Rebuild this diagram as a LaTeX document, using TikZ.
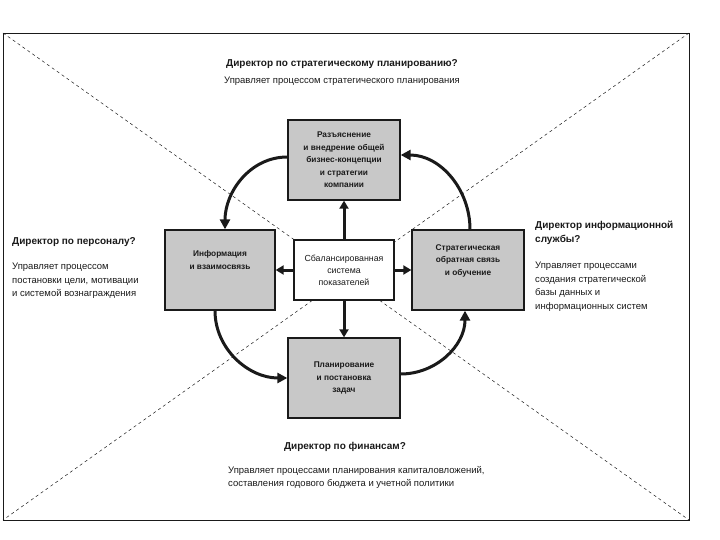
\documentclass[tikz,border=0pt]{standalone}
\usepackage{fontspec}
\setmainfont{Liberation Sans}
\usetikzlibrary{arrows.meta,positioning}
\definecolor{ink}{HTML}{1A1A1A}
\definecolor{boxgray}{HTML}{C8C8C8}

\begin{document}
\begin{tikzpicture}[
  x=1pt, y=-1pt, ink,
  stage/.style={draw=ink, fill=boxgray, line width=1.3pt, align=center,
                minimum width=112pt, minimum height=80pt, inner sep=2pt,
                font=\fontsize{8.3}{12.5}\selectfont\bfseries},
  core/.style={draw=ink, fill=white, line width=1.3pt, align=center,
               minimum width=100pt, minimum height=60pt, inner sep=2pt,
               font=\fontsize{8.8}{12}\selectfont},
  head/.style={font=\fontsize{10}{14}\selectfont\bfseries, inner sep=0pt},
  note/.style={font=\fontsize{9.5}{13.5}\selectfont, align=left, inner sep=0pt},
  fwd/.style={-{Triangle[length=8pt,width=9pt]}, line width=3pt},
  loop/.style={-{Triangle[length=10pt,width=10pt]}, line width=3pt},
  cross/.style={dashed, line width=0.5pt},
]
\useasboundingbox (0,0) rectangle (720,540);

% ---- frame and the two diagonals -------------------------------------------
\draw[line width=0.8pt] (3,33) rectangle (689,520);
\draw[cross] (3,33) -- (689,520);
\draw[cross] (689,33) -- (3,520);

% ---- the five boxes ---------------------------------------------------------
\node[stage] (clarify) at (344,160) {Разъяснение\\и внедрение общей\\бизнес-концепции\\и стратегии\\компании};
\node[stage, minimum width=110pt] (info) at (220,270) {Информация\\и взаимосвязь\\[8pt]};
\node[core] (bsc) at (344,270) {Сбалансированная\\система\\показателей};
\node[stage] (feedback) at (468,270) {Стратегическая\\обратная связь\\и обучение\\[8pt]};
\node[stage] (plan) at (344,378) {Планирование\\и постановка\\задач};

% ---- from the centre out ----------------------------------------------------
\draw[fwd] (bsc.north) -- (clarify.south);
\draw[fwd] (bsc.west) -- (info.east);
\draw[fwd] (bsc.east) -- (feedback.west);
\draw[fwd] (bsc.south) -- (plan.north);

% ---- the loop round the outside --------------------------------------------
\draw[loop] ([yshift=3pt]clarify.west) to[out=180, in=90] ([xshift=5pt]info.north);
\draw[loop] ([xshift=-5pt]info.south) to[out=-90, in=180] (plan.west);
\draw[loop] ([yshift=4pt]plan.east) to[out=0, in=-90] ([xshift=-3pt]feedback.south);
\draw[loop] ([xshift=2pt]feedback.north) to[out=90, in=0] ([yshift=5pt]clarify.east);

% ---- who runs what ----------------------------------------------------------
\node[head] (hTop) at (342,64) {Директор по стратегическому планированию?};
\node[note, below=8pt of hTop] (tTop) {Управляет процессом стратегического планирования};

\node[head, anchor=west] (hLeft) at (12,242) {Директор по персоналу?};
\node[note, anchor=north west] (tLeft) at (12,263)
  {Управляет процессом\\постановки цели, мотивации\\и системой вознаграждения};

\node[head, anchor=north west, align=left] (hRight) at (535,221)
  {Директор информационной\\службы?};
\node[note, anchor=north west] (tRight) at (535,262)
  {Управляет процессами\\создания стратегической\\базы данных и\\информационных систем};

\node[head] (hBottom) at (345,447) {Директор по финансам?};
\node[note, anchor=north west] (tBottom) at (228,466)
  {Управляет процессами планирования капиталовложений,\\составления годового бюджета и учетной политики};

\end{tikzpicture}
\end{document}
